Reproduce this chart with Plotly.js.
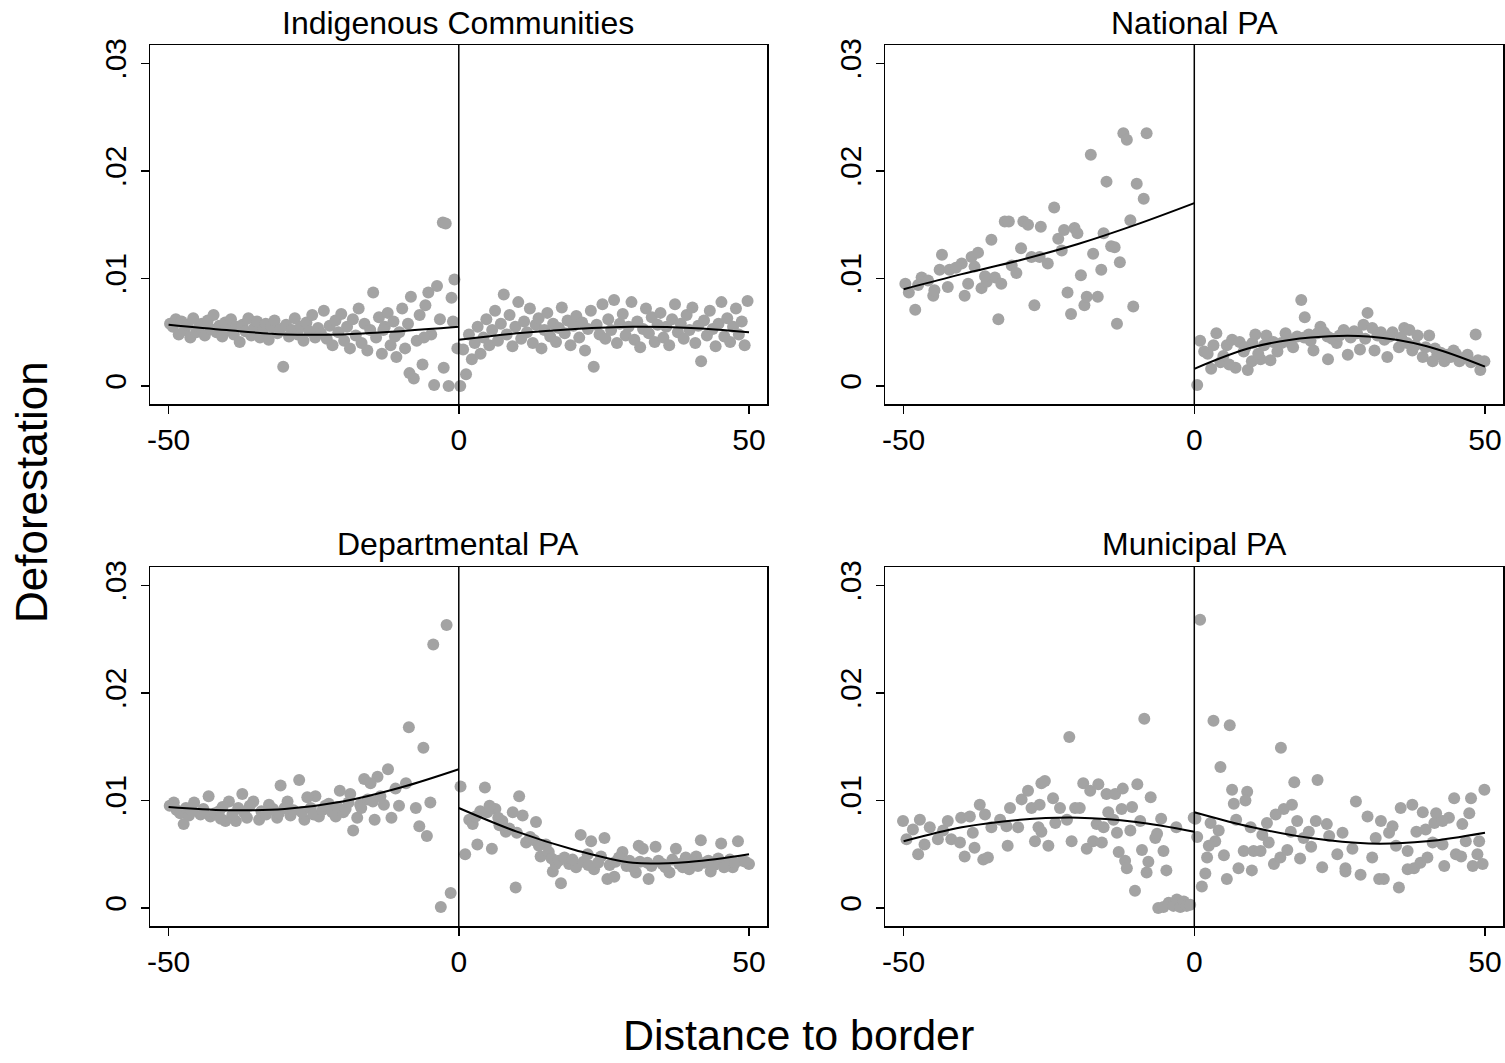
<!DOCTYPE html>
<html>
<head>
<meta charset="utf-8">
<script src="https://cdn.plot.ly/plotly-3.0.1.min.js"></script>
<style>html,body{margin:0;padding:0;background:#fff;}#chart{width:1505px;height:1063px;}</style>
</head>
<body>
<div id="chart"></div>
<script>
// ---------- Panel titles ----------
const panelTitles = ["Indigenous Communities", "National PA", "Departmental PA", "Municipal PA"];
const xTickVals = [-50, 0, 50];
const xTickText = ["-50", "0", "50"];
const yTickVals = [0, 0.01, 0.02, 0.03];
const yTickText = ["0", ".01", ".02", ".03"];

// ---------- Panel 1: Indigenous Communities ----------
const p1LeftX = [-49.75,-49.25,-48.75,-48.25,-47.75,-47.25,-46.75,-46.25,-45.75,-45.25,-44.75,-44.25,-43.75,-43.25,-42.75,-42.25,-41.75,-41.25,-40.75,-40.25,
 -39.75,-39.25,-38.75,-38.25,-37.75,-37.25,-36.75,-36.25,-35.75,-35.25,-34.75,-34.25,-33.75,-33.25,-32.75,-32.25,-31.75,-31.25,-30.75,-30.25,
 -29.75,-29.25,-28.75,-28.25,-27.75,-27.25,-26.75,-26.25,-25.75,-25.25,-24.75,-24.25,-23.75,-23.25,-22.75,-22.25,-21.75,-21.25,-20.75,-20.25,
 -19.75,-19.25,-18.75,-18.25,-17.75,-17.25,-16.75,-16.25,-15.75,-15.25,-14.75,-14.25,-13.75,-13.25,-12.75,-12.25,-11.75,-11.25,-10.75,-10.25,
 -9.75,-9.25,-8.75,-8.25,-7.75,-7.25,-6.75,-6.25,-5.75,-5.25,-4.75,-4.25,-3.75,-3.25,-2.75,-2.25,-1.75,-1.25,-0.75,-0.25,
 -2.6,-6.0,-1.0,-8.5,-11.0,-13.0];
const p1LeftY = [0.0058,0.0055,0.0062,0.0048,0.0060,0.0052,0.0057,0.0045,0.0063,0.0050,0.0055,0.0058,0.0047,0.0061,0.0053,0.0066,0.0050,0.0056,0.0046,0.0059,
 0.0052,0.0062,0.0048,0.0055,0.0041,0.0057,0.0051,0.0063,0.0047,0.0054,0.0060,0.0045,0.0052,0.0058,0.0043,0.0055,0.0061,0.0049,0.0053,0.0018,
 0.0057,0.0046,0.0052,0.0063,0.0048,0.0055,0.0042,0.0059,0.0051,0.0066,0.0045,0.0054,0.0049,0.0070,0.0044,0.0056,0.0038,0.0061,0.0050,0.0067,
 0.0042,0.0055,0.0035,0.0062,0.0047,0.0072,0.0040,0.0058,0.0033,0.0052,0.0087,0.0045,0.0064,0.0030,0.0055,0.0068,0.0038,0.0060,0.0027,0.0050,
 0.0072,0.0035,0.0058,0.0083,0.0007,0.0042,0.0066,0.0020,0.0075,0.0087,0.0048,0.0001,0.0093,0.0062,0.0152,0.0151,0.0000,0.0082,0.0099,0.0035,
 0.0017,0.0045,0.0060,0.0012,0.0046,0.0052];
const p1RightX = [0.25,0.75,1.25,1.75,2.25,2.75,3.25,3.75,4.25,4.75,5.25,5.75,6.25,6.75,7.25,7.75,8.25,8.75,9.25,9.75,
 10.25,10.75,11.25,11.75,12.25,12.75,13.25,13.75,14.25,14.75,15.25,15.75,16.25,16.75,17.25,17.75,18.25,18.75,19.25,19.75,
 20.25,20.75,21.25,21.75,22.25,22.75,23.25,23.75,24.25,24.75,25.25,25.75,26.25,26.75,27.25,27.75,28.25,28.75,29.25,29.75,
 30.25,30.75,31.25,31.75,32.25,32.75,33.25,33.75,34.25,34.75,35.25,35.75,36.25,36.75,37.25,37.75,38.25,38.75,39.25,39.75,
 40.25,40.75,41.25,41.75,42.25,42.75,43.25,43.75,44.25,44.75,45.25,45.75,46.25,46.75,47.25,47.75,48.25,48.75,49.25,49.75];
const p1RightY = [0.0000,0.0034,0.0011,0.0048,0.0025,0.0040,0.0055,0.0030,0.0045,0.0062,0.0038,0.0052,0.0070,0.0042,0.0058,0.0085,0.0048,0.0066,0.0037,0.0055,
 0.0078,0.0044,0.0060,0.0050,0.0072,0.0040,0.0057,0.0063,0.0035,0.0052,0.0068,0.0046,0.0058,0.0041,0.0054,0.0073,0.0049,0.0061,0.0038,0.0056,
 0.0065,0.0045,0.0059,0.0033,0.0053,0.0070,0.0018,0.0057,0.0048,0.0076,0.0044,0.0062,0.0052,0.0080,0.0040,0.0058,0.0067,0.0047,0.0055,0.0078,
 0.0043,0.0060,0.0036,0.0053,0.0072,0.0049,0.0064,0.0041,0.0057,0.0068,0.0045,0.0055,0.0038,0.0062,0.0076,0.0050,0.0058,0.0044,0.0066,0.0052,
 0.0073,0.0040,0.0056,0.0023,0.0061,0.0047,0.0070,0.0053,0.0037,0.0058,0.0078,0.0046,0.0063,0.0041,0.0055,0.0072,0.0048,0.0060,0.0038,0.0079];
const p1FitLeftX = [-50,-40,-30,-20,-10,0];
const p1FitLeftY = [0.0057,0.0052,0.0048,0.0048,0.0051,0.0055];
const p1FitRightX = [0,10,20,30,40,50];
const p1FitRightY = [0.0043,0.0049,0.0053,0.0055,0.0054,0.0050];

// ---------- Panel 2: National PA ----------
const p2LeftX = [-49.7,-49.1,-48.0,-46.9,-45.8,-44.9,-44.7,-43.4,-43.8,-42.1,-42.4,-40.0,-39.5,-38.9,-38.3,-37.2,-37.8,-36.6,-35.7,-34.9,
 -34.3,-33.7,-33.2,-32.6,-31.9,-31.4,-30.6,-29.8,-29.4,-28.6,-28.0,-27.5,-26.4,-26.6,-25.2,-24.1,-23.4,-22.8,-22.4,-21.8,
 -21.2,-20.6,-20.1,-19.5,-18.9,-18.5,-17.8,-17.4,-16.6,-16.0,-15.6,-15.1,-14.3,-13.7,-13.3,-12.8,-12.2,-11.6,-11.0,-10.5,
 -9.9,-8.7,-8.2,-47.5,-41.0,-36.0];
const p2LeftY = [0.0095,0.0087,0.0071,0.0101,0.0098,0.0084,0.0089,0.0122,0.0108,0.0108,0.0092,0.0114,0.0084,0.0095,0.0120,0.0124,0.0111,0.0091,0.0097,0.0136,
 0.0101,0.0062,0.0095,0.0153,0.0153,0.0112,0.0105,0.0128,0.0153,0.0150,0.0120,0.0075,0.0148,0.0120,0.0114,0.0166,0.0137,0.0126,0.0145,0.0087,
 0.0067,0.0147,0.0142,0.0103,0.0075,0.0083,0.0215,0.0123,0.0083,0.0108,0.0142,0.0190,0.0130,0.0129,0.0058,0.0115,0.0235,0.0229,0.0154,0.0074,
 0.0188,0.0174,0.0235,0.0094,0.0110,0.0102];
const p2RightX = [0.5,1.0,1.7,2.9,3.8,4.5,5.6,6.5,7.1,7.8,8.5,9.2,9.9,10.5,11.4,12.4,13.1,14.3,15.7,16.6,
 17.7,18.4,19.0,19.7,20.5,21.7,22.9,23.0,24.5,25.7,26.4,27.5,28.5,29.1,29.8,30.6,31.0,32.1,33.2,34.1,
 35.2,36.1,37.0,37.5,38.4,39.3,40.4,41.0,41.8,43.0,44.6,45.6,47.0,48.4,49.2,49.9,
 2.3,3.3,5.0,6.0,8.8,10.0,11.0,12.0,13.6,15.0,16.0,17.0,18.9,20.0,21.2,22.3,23.7,25.0,26.9,28.0,
 29.4,31.5,32.7,33.6,35.6,36.6,38.0,39.8,41.4,42.4,43.5,44.1,45.0,46.3,47.6,48.8];
const p2RightY = [0.0001,0.0042,0.0032,0.0016,0.0049,0.0022,0.0038,0.0043,0.0017,0.0041,0.0032,0.0015,0.0023,0.0048,0.0025,0.0047,0.0024,0.0032,0.0049,0.0040,
 0.0046,0.0080,0.0064,0.0048,0.0033,0.0055,0.0046,0.0025,0.0040,0.0052,0.0029,0.0051,0.0034,0.0057,0.0068,0.0054,0.0033,0.0050,0.0027,0.0050,
 0.0036,0.0054,0.0052,0.0033,0.0047,0.0027,0.0047,0.0023,0.0029,0.0023,0.0033,0.0023,0.0029,0.0048,0.0015,0.0023,
 0.0030,0.0038,0.0028,0.0020,0.0036,0.0040,0.0030,0.0038,0.0041,0.0040,0.0045,0.0036,0.0045,0.0042,0.0049,0.0050,0.0044,0.0047,0.0045,0.0049,
 0.0044,0.0047,0.0043,0.0046,0.0045,0.0040,0.0038,0.0036,0.0035,0.0031,0.0029,0.0027,0.0030,0.0026,0.0022,0.0024];
const p2FitLeftX = [-50,-40,-30,-20,-10,0];
const p2FitLeftY = [0.0090,0.0104,0.0117,0.0132,0.0150,0.0170];
const p2FitRightX = [0,10,20,30,40,50];
const p2FitRightY = [0.0016,0.0036,0.0045,0.0046,0.0037,0.0018];

// ---------- Panel 3: Departmental PA ----------
const p3LeftX = [-2.1,-4.4,-8.6,-6.1,-1.4,-3.1,-5.5,-6.8,-4.9,-7.4,-9.1,-12.2,-10.9,-10.3,-11.6,-12.9,-14.0,-15.2,-16.3,-15.7,
 -14.5,-18.2,-17.5,-18.7,-20.5,-19.9,-21.2,-22.4,-24.1,-24.7,-26.1,-26.6,-27.5,-29.5,-30.7,-31.3,-32.7,-34.4,-35.4,-37.3,
 -38.4,-39.6,-40.2,-41.3,-43.1,-42.8,-45.6,-47.4,-49.1,-49.8,
 -48.6,-48.0,-47.0,-46.5,-46.0,-44.5,-44.0,-42.0,-41.0,-40.7,-39.0,-38.0,-37.0,-36.5,-36.0,-34.0,-33.2,-32.0,-31.0,-30.0,
 -29.0,-28.5,-27.0,-25.5,-25.0,-23.5,-23.0,-21.8,-20.9,-19.5,-19.0,-17.0,-16.8,-14.8,-13.5];
const p3LeftY = [0.0263,0.0245,0.0168,0.0149,0.0014,0.0001,0.0067,0.0076,0.0098,0.0093,0.0116,0.0129,0.0111,0.0095,0.0084,0.0096,0.0122,0.0116,0.0120,0.0101,
 0.0082,0.0072,0.0084,0.0106,0.0109,0.0089,0.0085,0.0097,0.0085,0.0104,0.0103,0.0082,0.0119,0.0099,0.0114,0.0084,0.0096,0.0082,0.0099,0.0106,
 0.0081,0.0099,0.0081,0.0090,0.0104,0.0085,0.0098,0.0078,0.0098,0.0095,
 0.0091,0.0088,0.0093,0.0086,0.0090,0.0087,0.0092,0.0088,0.0083,0.0094,0.0087,0.0093,0.0089,0.0084,0.0095,0.0090,0.0087,0.0092,0.0088,0.0093,
 0.0086,0.0091,0.0089,0.0093,0.0087,0.0091,0.0095,0.0089,0.0094,0.0092,0.0098,0.0096,0.0093,0.0099,0.0104];
const p3RightX = [0.3,4.5,10.4,1.1,3.2,5.7,9.8,13.3,11.0,9.3,6.3,4.9,1.8,2.4,7.5,8.1,11.6,13.0,15.0,14.1,
 16.2,17.6,16.7,21.0,22.8,25.1,24.5,22.2,19.0,20.2,23.3,25.6,26.8,28.2,27.6,29.4,31.0,31.7,30.5,32.7,
 33.9,32.5,35.1,36.3,37.4,39.1,39.7,40.9,41.7,42.3,43.4,45.2,46.0,47.2,48.1,48.9,50.0,
 2.9,3.7,5.3,6.8,7.0,8.7,10.0,12.3,13.8,15.5,16.0,17.2,18.2,19.6,21.5,22.3,24.0,26.0,27.0,28.9,
 30.0,31.2,33.2,34.4,35.6,36.8,38.0,38.6,40.3,41.2,43.0,44.0,44.7,45.7,46.7,47.6,49.4];
const p3RightY = [0.0113,0.0112,0.0104,0.0050,0.0059,0.0055,0.0019,0.0080,0.0086,0.0089,0.0092,0.0089,0.0082,0.0078,0.0081,0.0071,0.0061,0.0063,0.0059,0.0048,
 0.0034,0.0023,0.0041,0.0068,0.0062,0.0065,0.0048,0.0050,0.0041,0.0038,0.0036,0.0027,0.0029,0.0052,0.0047,0.0044,0.0058,0.0055,0.0033,0.0027,
 0.0057,0.0042,0.0041,0.0033,0.0055,0.0047,0.0036,0.0048,0.0063,0.0042,0.0034,0.0060,0.0042,0.0038,0.0062,0.0044,0.0041,
 0.0085,0.0090,0.0095,0.0084,0.0077,0.0074,0.0070,0.0066,0.0058,0.0052,0.0046,0.0044,0.0047,0.0045,0.0043,0.0040,0.0042,0.0040,0.0043,0.0039,
 0.0038,0.0043,0.0039,0.0044,0.0038,0.0045,0.0041,0.0038,0.0043,0.0039,0.0044,0.0040,0.0046,0.0038,0.0045,0.0042,0.0043];
const p3FitLeftX = [-50,-40,-30,-20,-10,0];
const p3FitLeftY = [0.0094,0.0091,0.0092,0.0099,0.0112,0.0129];
const p3FitRightX = [0,10,20,30,40,50];
const p3FitRightY = [0.0093,0.0071,0.0054,0.0042,0.0043,0.0050];

// ---------- Panel 4: Municipal PA ----------
const p4LeftX = [-50.1,-49.5,-48.4,-47.5,-47.2,-46.4,-45.5,-44.1,-43.2,-42.4,-41.8,-40.3,-40.1,-39.5,-38.6,-37.8,-38.1,-36.9,-36.3,-35.5,
 -36.0,-34.9,-33.4,-32.3,-32.1,-31.7,-30.3,-29.7,-28.6,-28.0,-27.4,-26.6,-26.3,-26.8,
 -21.5,-8.6,-25.7,-26.3,-25.1,-24.3,-23.1,-23.9,-21.9,-21.1,-20.5,-19.7,-19.1,-18.5,-17.9,-17.4,-16.5,-16.8,-15.9,-15.6,
 -15.1,-14.8,-13.9,-13.6,-13.3,-13.0,-12.5,-12.3,-11.9,-11.6,-11.0,-10.7,-10.2,-9.8,-9.3,-9.0,-8.2,-7.9,-7.5,-6.7,
 -6.4,-5.7,-5.3,-4.8,-6.2,-5.3,-4.4,-3.6,-3.0,-2.4,-1.8,-1.3,-0.7,-3.1,-0.1];
const p4LeftY = [0.0081,0.0064,0.0073,0.0050,0.0082,0.0059,0.0075,0.0064,0.0072,0.0081,0.0064,0.0061,0.0084,0.0048,0.0085,0.0056,0.0070,0.0096,0.0045,0.0047,
 0.0087,0.0075,0.0082,0.0076,0.0058,0.0093,0.0075,0.0101,0.0109,0.0093,0.0062,0.0096,0.0116,0.0075,
 0.0159,0.0176,0.0118,0.0071,0.0058,0.0102,0.0093,0.0079,0.0082,0.0062,0.0093,0.0093,0.0116,0.0055,0.0109,0.0062,0.0115,0.0078,0.0061,0.0075,
 0.0106,0.0089,0.0082,0.0106,0.0070,0.0052,0.0092,0.0111,0.0044,0.0037,0.0072,0.0094,0.0016,0.0115,0.0081,0.0054,0.0033,0.0043,0.0103,0.0065,
 0.0069,0.0083,0.0053,0.0035,0.0000,0.0001,0.0005,0.0002,0.0008,0.0001,0.0006,0.0002,0.0003,0.0075,0.0084];
const p4RightX = [1.0,3.3,6.1,4.5,14.9,17.2,21.2,6.5,9.1,8.8,6.8,0.2,0.5,2.8,4.2,3.6,2.5,2.2,1.9,1.3,
 5.1,5.6,7.2,7.6,8.5,9.9,9.7,10.2,11.4,11.7,12.5,12.8,13.7,14.0,14.8,15.4,16.0,16.6,16.8,17.7,
 18.2,18.8,19.7,20.1,20.9,22.0,22.8,23.2,24.6,25.5,26.0,
 27.8,29.8,32.1,34.1,33.5,35.5,37.5,39.3,41.6,43.8,44.7,47.6,49.9,47.3,46.1,38.2,39.8,41.3,42.7,31.2,
 34.7,36.7,27.2,26.0,28.6,30.6,31.8,32.6,35.2,36.7,37.8,38.9,40.1,41.0,42.7,43.0,45.0,45.9,46.7,47.9,
 48.7,49.0,49.6];
const p4RightY = [0.0268,0.0174,0.0170,0.0131,0.0149,0.0117,0.0119,0.0110,0.0108,0.0100,0.0097,0.0083,0.0066,0.0079,0.0072,0.0062,0.0058,0.0047,0.0032,0.0020,
 0.0049,0.0027,0.0082,0.0037,0.0053,0.0035,0.0075,0.0053,0.0053,0.0068,0.0079,0.0061,0.0041,0.0087,0.0047,0.0092,0.0054,0.0071,0.0096,0.0081,
 0.0046,0.0065,0.0071,0.0057,0.0081,0.0038,0.0078,0.0067,0.0050,0.0070,0.0037,
 0.0099,0.0085,0.0081,0.0076,0.0070,0.0093,0.0096,0.0089,0.0088,0.0084,0.0102,0.0102,0.0110,0.0088,0.0078,0.0071,0.0073,0.0079,0.0081,0.0065,
 0.0058,0.0053,0.0055,0.0034,0.0031,0.0047,0.0027,0.0027,0.0019,0.0036,0.0037,0.0042,0.0047,0.0061,0.0059,0.0039,0.0050,0.0048,0.0062,0.0039,
 0.0050,0.0062,0.0041];
const p4FitLeftX = [-50,-40,-30,-20,-10,0];
const p4FitLeftY = [0.0062,0.0075,0.0082,0.0084,0.0080,0.0071];
const p4FitRightX = [0,10,20,30,40,50];
const p4FitRightY = [0.0089,0.0075,0.0065,0.0060,0.0062,0.0070];

// ---------- Build ----------
const panels = [
  {lx:p1LeftX, ly:p1LeftY, rx:p1RightX, ry:p1RightY, flx:p1FitLeftX, fly:p1FitLeftY, frx:p1FitRightX, fry:p1FitRightY},
  {lx:p2LeftX, ly:p2LeftY, rx:p2RightX, ry:p2RightY, flx:p2FitLeftX, fly:p2FitLeftY, frx:p2FitRightX, fry:p2FitRightY},
  {lx:p3LeftX, ly:p3LeftY, rx:p3RightX, ry:p3RightY, flx:p3FitLeftX, fly:p3FitLeftY, frx:p3FitRightX, fry:p3FitRightY},
  {lx:p4LeftX, ly:p4LeftY, rx:p4RightX, ry:p4RightY, flx:p4FitLeftX, fly:p4FitLeftY, frx:p4FitRightX, fry:p4FitRightY}
];

const W = 1505, H = 1063;
const xDomains = [[150/W, 767/W], [885/W, 1503/W], [150/W, 767/W], [885/W, 1503/W]];
const yDomains = [[1-404/H, 1-45/H], [1-404/H, 1-45/H], [1-926/H, 1-567/H], [1-926/H, 1-567/H]];
const titleY = [1-23/H, 1-23/H, 1-544/H, 1-544/H];
const FONT = "Liberation Sans, Arial, sans-serif";
const dotColor = "#a3a3a3";

const traces = [];
const layout = {
  width: W, height: H,
  margin: {l:0, r:0, t:0, b:0},
  paper_bgcolor: "#fff", plot_bgcolor: "#fff",
  showlegend: false,
  font: {family: FONT, color: "#000"},
  shapes: [], annotations: []
};

panels.forEach((p, i) => {
  const n = i === 0 ? "" : String(i + 1);
  const xa = "x" + n, ya = "y" + n;
  traces.push({type:"scatter", mode:"markers", x:p.lx, y:p.ly, xaxis:xa, yaxis:ya,
    marker:{size:12, color:dotColor}, hoverinfo:"skip"});
  traces.push({type:"scatter", mode:"markers", x:p.rx, y:p.ry, xaxis:xa, yaxis:ya,
    marker:{size:12, color:dotColor}, hoverinfo:"skip"});
  traces.push({type:"scatter", mode:"lines", x:p.flx, y:p.fly, xaxis:xa, yaxis:ya,
    line:{color:"#000", width:2, shape:"spline", smoothing:1}, hoverinfo:"skip"});
  traces.push({type:"scatter", mode:"lines", x:p.frx, y:p.fry, xaxis:xa, yaxis:ya,
    line:{color:"#000", width:2, shape:"spline", smoothing:1}, hoverinfo:"skip"});

  layout["xaxis" + n] = {
    domain: xDomains[i], anchor: ya, range: [-53.2, 53.1],
    tickvals: xTickVals, ticktext: xTickText, ticks: "outside", ticklen: 8, tickwidth: 1.5, tickcolor: "#000",
    showgrid: false, zeroline: false, showline: true, mirror: true, linecolor: "#000", linewidth: 1.5,
    tickfont: {size: 30, family: FONT, color: "#000"}, ticklabelstandoff: 0, fixedrange: true
  };
  layout["yaxis" + n] = {
    domain: yDomains[i], anchor: xa, range: [-0.00167, 0.0317],
    tickvals: yTickVals, ticktext: yTickText, ticks: "outside", ticklen: 8, tickwidth: 1.5, tickcolor: "#000",
    tickangle: -90, showgrid: false, zeroline: false, showline: true, mirror: true, linecolor: "#000", linewidth: 1.5,
    tickfont: {size: 30, family: FONT, color: "#000"}, ticklabelstandoff: 3, fixedrange: true
  };
  layout.shapes.push({type:"line", xref:xa, yref:ya + " domain", x0:0, x1:0, y0:0, y1:1,
    line:{color:"#000", width:1.5}});
  layout.annotations.push({text: panelTitles[i], xref:"paper", yref:"paper",
    x:(xDomains[i][0] + xDomains[i][1]) / 2, y:titleY[i], yanchor:"middle", xanchor:"center",
    showarrow:false, font:{size:32, family:FONT, color:"#000"}});
});

layout.annotations.push({text:"Deforestation", xref:"paper", yref:"paper", x:32/W, y:1-492/H,
  textangle:-90, showarrow:false, xanchor:"center", yanchor:"middle", font:{size:44, family:FONT, color:"#000"}});
layout.annotations.push({text:"Distance to border", xref:"paper", yref:"paper", x:798/W, y:1-1035/H,
  showarrow:false, xanchor:"center", yanchor:"middle", font:{size:43, family:FONT, color:"#000"}});

Plotly.newPlot("chart", traces, layout, {displayModeBar:false, staticPlot:true});
</script>
</body>
</html>
